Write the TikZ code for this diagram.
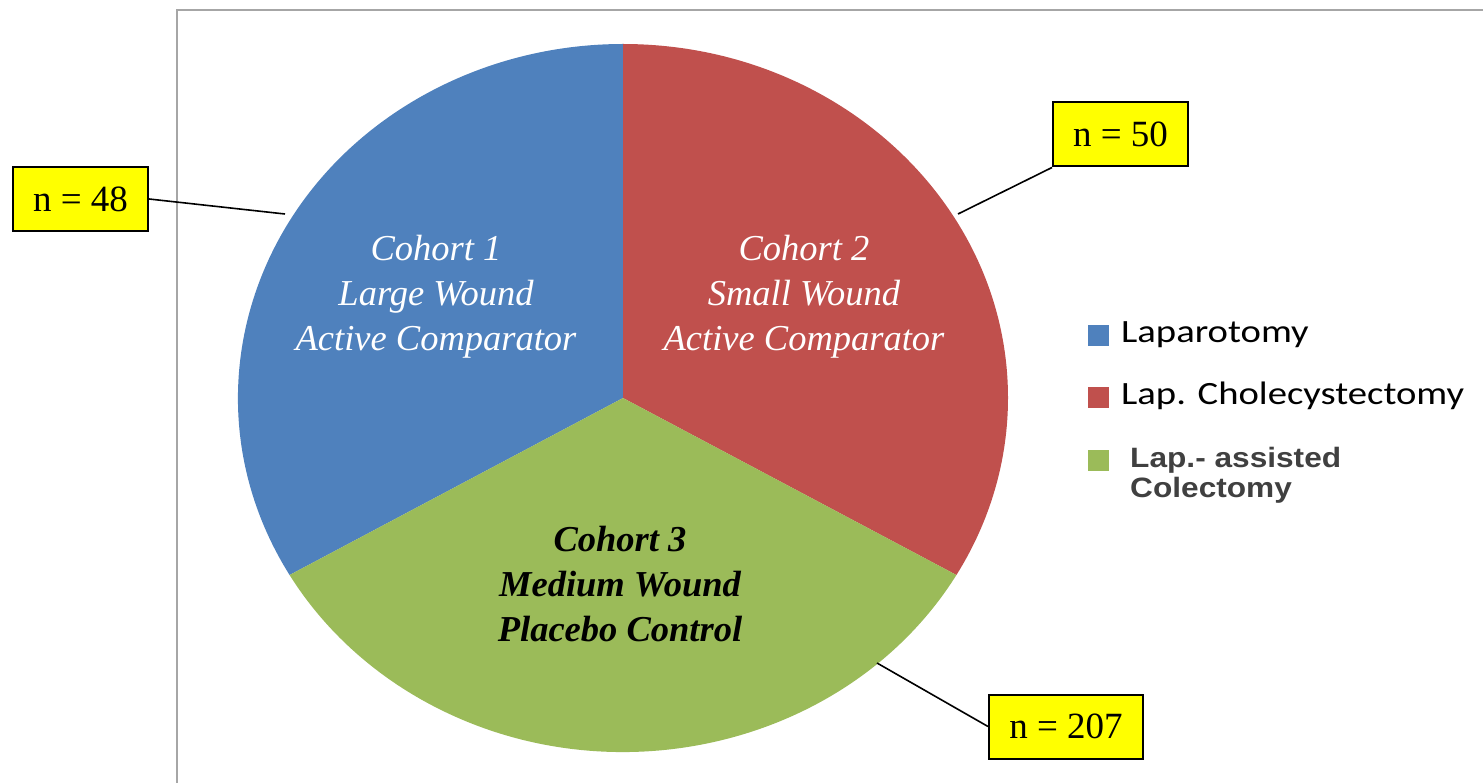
\documentclass[tikz,border=0pt]{standalone}
\usepackage{fontspec}
\setmainfont{Liberation Serif}
\newfontfamily\carl{Carlito}
\newfontfamily\arialf{Liberation Sans}
\definecolor{cblue}{HTML}{4F81BD}
\definecolor{cred}{HTML}{C0504D}
\definecolor{cgreen}{HTML}{9BBB59}
\definecolor{framegray}{HTML}{A6A6A6}
\definecolor{legtext}{HTML}{404040}
\definecolor{boxyellow}{HTML}{FFFF00}
\tikzset{
  nbox/.style={draw=black, line width=2pt, fill=boxyellow, minimum height=64pt, inner sep=0pt,
    font=\fontsize{37}{40}\selectfont},
  lead/.style={draw=black, line width=1.6pt},
  cohort/.style={align=center, anchor=base, inner sep=0pt,
    font=\fontsize{36.5}{45}\selectfont\itshape},
  legsq/.style={minimum size=21pt, inner sep=0pt, anchor=north west},
  legcarl/.style={anchor=base west, inner sep=0pt, text=black,
    font=\fontsize{32.5}{36}\selectfont\carl},
  legarial/.style={anchor=base west, inner sep=0pt, text=legtext, align=left,
    font=\fontsize{28}{30}\selectfont\arialf\bfseries}
}
\begin{document}
\begin{tikzpicture}[x=1pt, y=-1pt]
\useasboundingbox (0,0) rectangle (1483,783);
% frame
\draw[framegray, line width=2.5pt] (177,783) -- (177,10) -- (1483,10);
% pie
\coordinate (c) at (623,398);
\fill[cblue] (c) -- ++(150:385 and 354) arc[start angle=150, end angle=270, x radius=385, y radius=354] -- cycle;
\fill[cred] (c) -- ++(270:385 and 354) arc[start angle=270, end angle=390, x radius=385, y radius=354] -- cycle;
\fill[cgreen] (c) -- ++(30:385 and 354) arc[start angle=30, end angle=150, x radius=385, y radius=354] -- cycle;
% cohort labels (base anchor = last line baseline)
\node[cohort, text=white] (c1) at (436,351) {Cohort 1\\Large Wound\\Active Comparator};
\node[cohort, text=white] (c2) at (804,351) {Cohort 2\\Small Wound\\Active Comparator};
\node[cohort, text=black, font=\fontsize{36.5}{45}\selectfont\bfseries\itshape] (c3) at (620,641) {Cohort 3\\Medium Wound\\Placebo Control};
% n boxes
\node[nbox, minimum width=135pt] (n48) at (80.5,199) {n = 48};
\node[nbox, minimum width=135pt] (n50) at (1120.5,134.5) {n = 50};
\node[nbox, minimum width=154pt] (n207) at (1066,726.5) {n = 207};
\coordinate (p48) at (285,214);
\coordinate (p50) at (958,214);
\coordinate (p207) at (877,663);
\draw[lead] (n48.east) -- (p48);
\draw[lead] (n50.south west) -- (p50);
\draw[lead] (n207.west) -- (p207);
% legend
\node[legsq, fill=cblue] (s1) at (1088,325) {};
\node[legsq, fill=cred] (s2) at (1088,387) {};
\node[legsq, fill=cgreen] (s3) at (1088,450) {};
\node[legcarl] (t1) at (1121,343) {\scalebox{1.19}[1]{Laparotomy}};
\node[legcarl] (t2) at (1121,405) {\scalebox{1.19}[1]{Lap. Cholecystectomy}};
\node[legarial] (t3) at (1130,497) {\scalebox{1.13}[1]{Lap.- assisted}\\\scalebox{1.13}[1]{Colectomy}};
\end{tikzpicture}
\end{document}
